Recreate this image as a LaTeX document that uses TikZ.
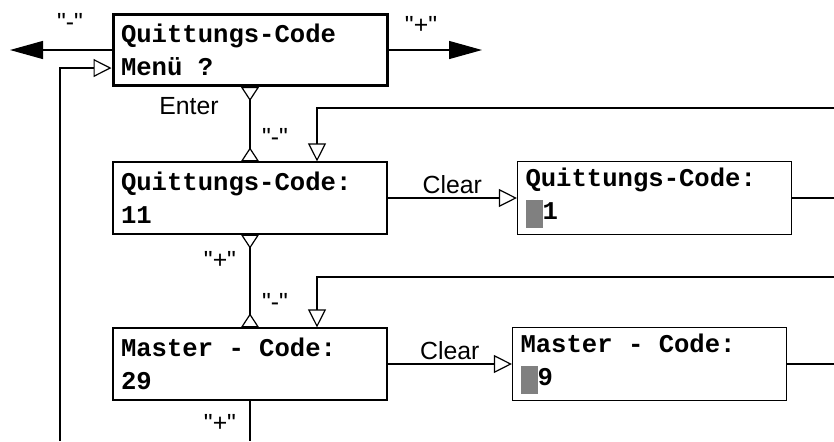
\documentclass[tikz,border=0pt]{standalone}
\usepackage{fontspec}
\setmainfont{Liberation Sans}
\newfontfamily\lcdfont{Liberation Mono}
\usetikzlibrary{arrows.meta}
\newcommand{\cursorblk}{\textcolor{gray}{\rule[-4pt]{8.5pt}{14pt}}}
\newcommand{\keyq}[1]{\textquotedbl#1\textquotedbl}
\tikzset{
    lcd/.style={draw, line width=0.6pt, rectangle, minimum width=137pt,
        minimum height=36pt, text width=129pt, inner xsep=4pt, align=left,
        font={\lcdfont\bfseries\fontsize{12.8}{16.5}\selectfont},
        execute at begin node={\spaceskip=0pt\xspaceskip=0pt\relax}},
    menubox/.style={lcd, line width=1.5pt, minimum width=136.5pt, minimum height=35.5pt},
    key/.style={font={\fontsize{12.4}{14}\selectfont}, inner sep=1pt},
    link/.style={draw, line width=0.6pt},
    push/.style={link, -{Triangle[open, length=9pt, width=9pt]}},
    jump/.style={link, line width=0.6pt, -{Triangle[length=16.5pt, width=9pt]}},
    pass/.style={link, {Triangle[open, reversed, length=7pt, width=9pt]}-{Triangle[open, reversed, length=7pt, width=9pt]}}
}
\begin{document}
\begin{tikzpicture}[x=0.5pt, y=-0.5pt]
    \useasboundingbox (0,0) rectangle (834,441);
    % display states
    \node[menubox] (menu) at (250,50) {Quittungs-Code\\Menü ?};
    \node[lcd] (qcode) at (250,198) {Quittungs-Code:\\11};
    \node[lcd] (qedit) at (654.5,198) {Quittungs-Code:\\\cursorblk 1};
    \node[lcd] (mcode) at (250,364) {Master - Code:\\29};
    \node[lcd] (medit) at (649.5,364) {Master - Code:\\\cursorblk 9};
    % loose ends
    \coordinate (leftout) at (10,50);
    \coordinate (rightout) at (482,50);
    \coordinate (back) at (60,441);
    \coordinate (ret1) at (834,108);
    \coordinate (ret2) at (834,277);
    \coordinate (qnext) at (834,198);
    \coordinate (mnext) at (834,364);
    \coordinate (down) at (250,441);
    % keys
    \node[key] (lminus) at (70,22) {\keyq{-}};
    \node[key] (lplus) at (421,25) {\keyq{+}};
    \node[key] (enter) at (189,106) {Enter};
    \node[key] (qminus) at (275,137) {\keyq{-}};
    \node[key] (qplus) at (220,260) {\keyq{+}};
    \node[key] (mminus) at (275,302) {\keyq{-}};
    \node[key] (mplus) at (220,423) {\keyq{+}};
    % connectors
    \draw[jump] (menu.west) -- (leftout);
    \draw[jump] (menu.east) -- (rightout);
    \draw[push] (back) |- ([yshift=-9pt]menu.west);
    \draw[pass] (menu.south) -- (qcode.north);
    \draw[push] (ret1) -| ([xshift=33.5pt]qcode.north);
    \draw[push] (qcode) -- node[key, above=1pt] {Clear} (qedit);
    \draw[link] (qedit) -- (qnext);
    \draw[pass] (qcode.south) -- (mcode.north);
    \draw[push] (ret2) -| ([xshift=33.5pt]mcode.north);
    \draw[push] (mcode) -- node[key, above=1pt] {Clear} (medit);
    \draw[link] (medit) -- (mnext);
    \draw[link] (mcode.south) -- (down);
\end{tikzpicture}
\end{document}
